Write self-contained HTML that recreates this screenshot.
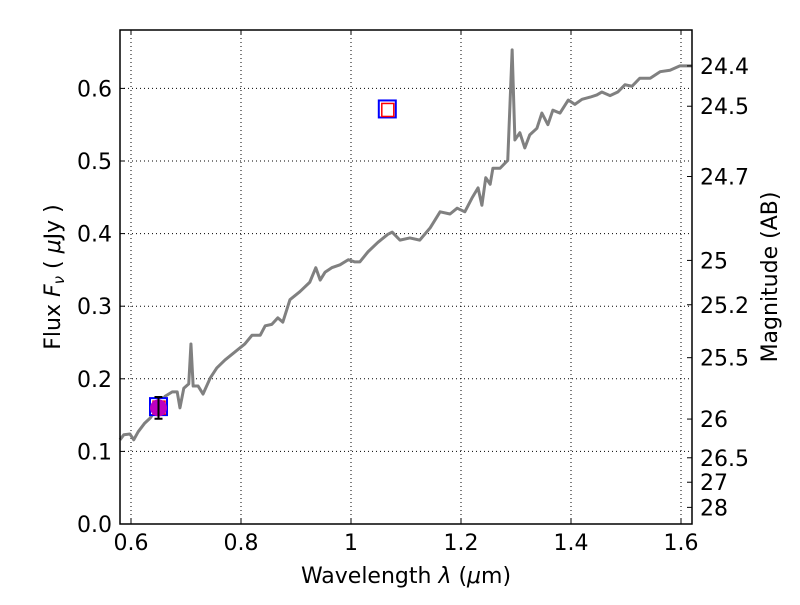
<!DOCTYPE html>
<html><head><meta charset="utf-8"><style>
body{margin:0;background:#fff}
svg text{font-family:"DejaVu Sans","Liberation Sans",sans-serif;font-size:22px;fill:#000}
</style></head><body>
<svg id="c" width="800" height="600"></svg>
<script>
const wave=[0.58,0.587,0.598,0.605,0.613,0.625,0.635,0.647,0.662,0.675,0.684,0.689,0.696,0.705,0.709,0.713,0.722,0.731,0.744,0.756,0.771,0.789,0.807,0.82,0.835,0.844,0.856,0.867,0.876,0.889,0.907,0.925,0.936,0.944,0.953,0.965,0.98,0.995,1.007,1.016,1.031,1.049,1.067,1.075,1.089,1.107,1.125,1.144,1.162,1.18,1.193,1.207,1.22,1.231,1.238,1.245,1.253,1.258,1.271,1.285,1.293,1.298,1.307,1.316,1.325,1.338,1.347,1.358,1.367,1.38,1.395,1.407,1.42,1.435,1.447,1.456,1.471,1.485,1.498,1.511,1.525,1.544,1.562,1.58,1.598,1.62];
const flux=[0.116,0.123,0.124,0.116,0.127,0.139,0.146,0.160,0.176,0.182,0.182,0.160,0.187,0.193,0.248,0.190,0.190,0.179,0.201,0.215,0.226,0.237,0.248,0.260,0.260,0.273,0.275,0.284,0.278,0.309,0.320,0.333,0.353,0.336,0.347,0.353,0.357,0.364,0.361,0.361,0.375,0.388,0.399,0.402,0.391,0.394,0.391,0.408,0.430,0.427,0.435,0.430,0.449,0.463,0.439,0.477,0.468,0.490,0.490,0.501,0.653,0.529,0.539,0.518,0.536,0.545,0.566,0.550,0.570,0.566,0.584,0.578,0.585,0.588,0.591,0.595,0.590,0.595,0.605,0.603,0.614,0.614,0.623,0.625,0.631,0.631];
const xTicks=[0.6,0.8,1.0,1.2,1.4,1.6];
const xLabels=["0.6","0.8","1","1.2","1.4","1.6"];
const yTicks=[0.0,0.1,0.2,0.3,0.4,0.5,0.6];
const yLabels=["0.0","0.1","0.2","0.3","0.4","0.5","0.6"];
const magTicks=[24.4,24.5,24.7,25,25.2,25.5,26,26.5,27,28];
const photWave=[0.65,1.066];
const photFlux=[0.161,0.571];
const obsWave=[0.65];
const obsFlux=[0.160];
const obsErr=[0.015];

const L=120,R=692,T=30,B=524;
const X=v=>131+(v-0.6)*550;
const Y=v=>524-v*726;
const magY=m=>Y(Math.pow(10,(23.9-m)/2.5));
const svg=document.getElementById('c');
const NS='http://www.w3.org/2000/svg';
function mk(t,a,p){const e=document.createElementNS(NS,t);for(const k in a)e.setAttribute(k,a[k]);(p||svg).appendChild(e);return e;}

xTicks.forEach(v=>{const g=mk('line',{x1:X(v),x2:X(v),y1:T,y2:B,stroke:'#000','stroke-dasharray':'1,3','stroke-width':1});

});
yTicks.forEach(v=>{const g=mk('line',{x1:L,x2:R,y1:Y(v),y2:Y(v),stroke:'#000','stroke-dasharray':'1,3','stroke-width':1});

});

const sp=mk('polyline',{points:wave.map((w,i)=>X(w)+','+Y(flux[i])).join(' '),fill:'none',stroke:'#808080','stroke-width':3,'stroke-linejoin':'round'});



photWave.forEach((w,i)=>{
const b=mk('rect',{x:X(w)-8.5,y:Y(photFlux[i])-9,width:17,height:17,fill:'#fff',stroke:'#0000ff','stroke-width':2});


const r=mk('rect',{x:X(w)-5.5,y:Y(photFlux[i])-6,width:12,height:13,fill:'#fff',stroke:'#ff0000','stroke-width':1.5});

});
obsWave.forEach((w,i)=>{
const c=mk('circle',{cx:X(w),cy:Y(obsFlux[i]),r:8.5,fill:'#bf00bf'});


const e=mk('path',{d:`M${X(w)},${Y(obsFlux[i]+obsErr[i])}V${Y(obsFlux[i]-obsErr[i])}M${X(w)-4},${Y(obsFlux[i]+obsErr[i])}h8M${X(w)-4},${Y(obsFlux[i]-obsErr[i])}h8`,stroke:'#000','stroke-width':2,fill:'none'});

});

const f=mk('rect',{x:L,y:T,width:R-L,height:B-T,fill:'none',stroke:'#000','stroke-width':1.5});



xTicks.forEach((v,i)=>{
mk('line',{x1:X(v),x2:X(v),y1:B,y2:B-5,stroke:'#000'});
mk('line',{x1:X(v),x2:X(v),y1:T,y2:T+5,stroke:'#000'});
const t=mk('text',{x:X(v),y:B+26,'text-anchor':'middle'});t.textContent=xLabels[i];

});
yTicks.forEach((v,i)=>{
mk('line',{x1:L,x2:L+5,y1:Y(v),y2:Y(v),stroke:'#000'});
const t=mk('text',{x:L-8,y:Y(v)+8,'text-anchor':'end'});t.textContent=yLabels[i];

});
magTicks.forEach(m=>{
mk('line',{x1:R-5,x2:R,y1:magY(m),y2:magY(m),stroke:'#000'});
const t=mk('text',{x:R+8,y:magY(m)+8});t.textContent=String(m);

});

const xt=mk('text',{x:406,y:583,'text-anchor':'middle'});xt.innerHTML='Wavelength  <tspan font-style="italic">λ</tspan> (<tspan font-style="italic">μ</tspan>m)';


const yt=mk('text',{x:0,y:0,'text-anchor':'middle',transform:'translate(60,277) rotate(-90)'});yt.innerHTML='Flux  <tspan font-style="italic">F</tspan><tspan font-style="italic" font-size="15" dy="4">ν</tspan><tspan dy="-4">  ( </tspan><tspan font-style="italic">μ</tspan>Jy )';


const rt=mk('text',{x:0,y:0,'text-anchor':'middle',transform:'translate(777,277) rotate(-90)'});rt.textContent='Magnitude (AB)';


</script>
</body></html>
